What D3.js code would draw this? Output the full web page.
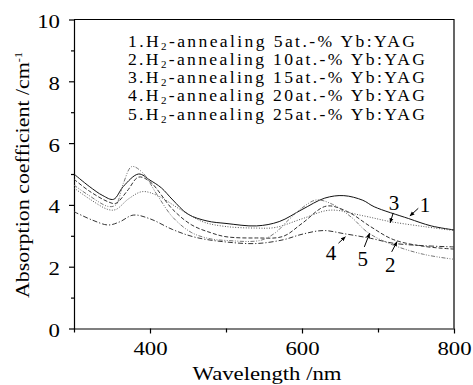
<!DOCTYPE html>
<head>
  <style>
    body { margin: 0; background: #fff; }
    svg text { font-family: "Liberation Serif", "Times New Roman", serif; fill: #000; }
    .axis path, .axis line { stroke: #000; stroke-width: 1.2; }
    .curve { fill: none; }
  </style>
</head>

<body>

  <script src="https://cdn.jsdelivr.net/npm/d3@7/dist/d3.min.js"></script>

  <script>
    // curve data (wavelength nm, absorption coefficient cm^-1)
    var wl1 = [300, 320, 338, 352, 365, 385, 400, 415, 430, 450, 475, 500, 540, 570, 600, 630, 655, 680, 695, 740, 770, 800];
    var ab1 = [5.0, 4.6, 4.3, 4.18, 4.6, 5.0, 4.8, 4.55, 4.16, 3.7, 3.48, 3.4, 3.32, 3.46, 3.85, 4.22, 4.3, 4.15, 3.94, 3.56, 3.32, 3.19];

    var wl2 = [300, 320, 345, 355, 370, 385, 400, 430, 455, 480, 500, 540, 575, 600, 632, 660, 690, 720, 760, 800];
    var ab2 = [4.83, 4.45, 4.1, 4.05, 4.45, 4.9, 4.75, 3.85, 3.35, 3.1, 2.97, 2.93, 2.98, 3.4, 3.96, 3.78, 3.3, 2.88, 2.66, 2.57];

    var wl3 = [300, 320, 345, 355, 372, 390, 410, 440, 470, 500, 540, 565, 600, 637, 680, 716, 760, 800];
    var ab3 = [4.55, 4.2, 3.85, 3.85, 4.2, 4.43, 4.3, 3.85, 3.45, 3.3, 3.25, 3.27, 3.55, 3.83, 3.65, 3.46, 3.3, 3.17];

    var wl4 = [300, 325, 345, 360, 378, 400, 430, 460, 500, 540, 575, 600, 628, 655, 690, 720, 760, 800];
    var ab4 = [3.78, 3.5, 3.35, 3.45, 3.67, 3.55, 3.2, 2.95, 2.8, 2.75, 2.87, 3.05, 3.17, 3.07, 2.92, 2.76, 2.68, 2.64];

    var wl5 = [300, 320, 345, 355, 365, 376, 390, 410, 430, 455, 480, 500, 545, 565, 580, 600, 619, 640, 665, 687, 720, 760, 800];
    var ab5 = [4.64, 4.3, 3.95, 4.0, 4.7, 5.24, 5.05, 4.3, 3.6, 3.1, 2.9, 2.85, 2.85, 3.1, 3.46, 3.9, 4.16, 4.02, 3.6, 3.1, 2.7, 2.4, 2.24];

    var legendNums = ["1", "2", "3", "4", "5"];
    var legendConc = ["5", "10", "15", "20", "25"];

    var xMajor = [400, 600, 800];
    var xMinor = [300, 500, 700];
    var yMajor = [0, 2, 4, 6, 8, 10];
    var yMinor = [1, 3, 5, 7, 9];

    // curve labels with arrows: label point, arrow tail, arrow tip (data units)
    var labelNames = ["1", "3", "2", "5", "4"];
    var labelAt   = [[762, 3.77], [721, 3.83], [716, 1.84], [680, 2.02], [638, 2.22]];
    var arrowFrom = [[753, 3.89], [720, 3.74], [718, 2.48], [682, 2.64], [648, 2.76]];
    var arrowTo   = [[742, 3.64], [716, 3.42], [725, 2.81], [689, 3.08], [657, 2.97]];

    var W = 473, H = 385;
    var x = d3.scaleLinear().domain([300, 800]).range([74, 454]),
        y = d3.scaleLinear().domain([0, 10]).range([328.5, 19.5]);

    var svg = d3.select("body").append("svg")
                .attr("width", W)
                .attr("height", H);

    // the scan's text is a bit wider than the font, stretch it
    function stretch(sel, k) {
      sel.each(function() {
        var w = this.getComputedTextLength();
        d3.select(this).attr("textLength", w * k).attr("lengthAdjust", "spacingAndGlyphs");
      });
    }

    // frame top and right
    svg.append("path")
       .attr("d", "M" + x(300) + "," + y(10) + "H" + x(800) + "V" + y(0))
       .attr("fill", "none")
       .attr("stroke", "#000")
       .attr("stroke-width", 1.2);

    // axes
    svg.append("g").attr("class", "axis")
       .attr("transform", "translate(0," + y(0) + ")")
       .call(d3.axisBottom(x).tickValues(xMajor).tickSize(5).tickPadding(8).tickSizeOuter(0));
    svg.append("g").attr("class", "axis")
       .attr("transform", "translate(0," + y(0) + ")")
       .call(d3.axisBottom(x).tickValues(xMinor).tickSize(4).tickFormat("").tickSizeOuter(0))
       .select(".domain").remove();

    var yAxis = svg.append("g").attr("class", "axis")
       .attr("transform", "translate(" + x(300) + ",0)")
       .call(d3.axisLeft(y).tickValues(yMajor).tickSize(5).tickPadding(9).tickSizeOuter(0));
    svg.append("g").attr("class", "axis")
       .attr("transform", "translate(" + x(300) + ",0)")
       .call(d3.axisLeft(y).tickValues(yMinor).tickSize(3).tickFormat("").tickSizeOuter(0))
       .select(".domain").remove();

    svg.selectAll(".axis text")
       .style("font-size", "19px");
    yAxis.selectAll("text").attr("dy", "0.42em");
    stretch(svg.selectAll(".axis text"), 1.2);

    // curves
    var series = [
      {wl: wl1, ab: ab1, dash: null, color: "#111", w: 1.0},
      {wl: wl2, ab: ab2, dash: "4,2", color: "#333", w: 1.0},
      {wl: wl3, ab: ab3, dash: "1,1.6", color: "#555", w: 1.0},
      {wl: wl4, ab: ab4, dash: "5,2,1.2,2", color: "#333", w: 1.0},
      {wl: wl5, ab: ab5, dash: "4,1.5,1,1.5,1,1.5", color: "#777", w: 1.0}
    ];

    var line = d3.line()
                 .x(function(d) { return x(d[0]); })
                 .y(function(d) { return y(d[1]); })
                 .curve(d3.curveCatmullRom.alpha(0.5));

    series.forEach(function(s) {
      var pts = s.wl.map(function(v, i) { return [v, s.ab[i]]; });
      svg.append("path")
         .attr("class", "curve")
         .attr("d", line(pts))
         .attr("stroke", s.color)
         .attr("stroke-width", s.w)
         .attr("stroke-dasharray", s.dash);
    });

    // arrows and curve numbers
    svg.append("defs").append("marker")
       .attr("id", "arr")
       .attr("viewBox", "0 0 10 10")
       .attr("refX", 9).attr("refY", 5)
       .attr("markerWidth", 5).attr("markerHeight", 5)
       .attr("orient", "auto")
       .append("path").attr("d", "M0,1L10,5L0,9z").attr("fill", "#000");

    labelNames.forEach(function(n, i) {
      svg.append("line")
         .attr("x1", x(arrowFrom[i][0])).attr("y1", y(arrowFrom[i][1]))
         .attr("x2", x(arrowTo[i][0])).attr("y2", y(arrowTo[i][1]))
         .attr("stroke", "#000").attr("stroke-width", 1)
         .attr("marker-end", "url(#arr)");
      svg.append("text")
         .attr("class", "cnum")
         .attr("x", x(labelAt[i][0])).attr("y", y(labelAt[i][1]))
         .attr("text-anchor", "middle")
         .style("font-size", "21px")
         .text(n);
    });

    // legend: a little wider glyphs, the rest as letter spacing
    var sx = 1.1;
    legendNums.forEach(function(n, i) {
      var t = svg.append("g")
         .attr("transform", "translate(128," + (46.7 + i * 18.2) + ") scale(" + sx + ",1)")
         .append("text")
         .style("font-size", "16px")
         .attr("textLength", (i == 0 ? 287 : 297) / sx);
      t.append("tspan").text(n + ".H");
      t.append("tspan").attr("dy", 3).style("font-size", "10px").text("2");
      t.append("tspan").attr("dy", -3).text("-annealing " + legendConc[i] + "at.-% Yb:YAG");
    });

    // axis titles
    svg.append("text")
       .attr("x", 267).attr("y", 380)
       .attr("text-anchor", "middle")
       .style("font-size", "18px")
       .attr("lengthAdjust", "spacingAndGlyphs")
       .attr("textLength", 149)
       .text("Wavelength /nm");

    var yt = svg.append("text")
       .attr("transform", "translate(29," + 175 + ") rotate(-90)")
       .attr("text-anchor", "middle")
       .style("font-size", "18px")
       .attr("lengthAdjust", "spacingAndGlyphs")
       .attr("textLength", 246);
    yt.append("tspan").text("Absorption coefficient /cm");
    yt.append("tspan").attr("dy", -7).style("font-size", "10px").text("-1");

  </script>

</body>
